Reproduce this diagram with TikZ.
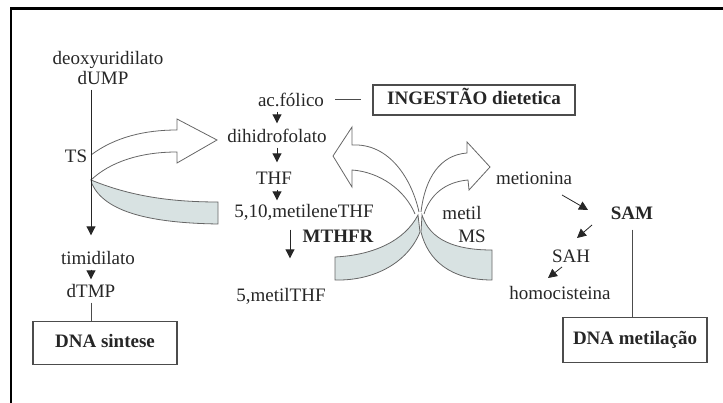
\documentclass[tikz,border=0pt]{standalone}
\usepackage{fontspec}
\setmainfont{Liberation Serif}
\usetikzlibrary{arrows.meta,%
                positioning}
\definecolor{cinza}{RGB}{216,226,226}

\begin{document}
\begin{tikzpicture}[x=1pt,y=-1pt,
  font=\fontsize{19}{22}\selectfont,
  every node/.style={text height=13pt,text depth=4pt,inner sep=1pt,text=black!85},
  caixa/.style={draw=black!70,line width=1.2pt,font=\fontsize{19}{22}\selectfont\bfseries},
  seta/.style={-{Triangle[width=9pt,length=9pt]},line width=1pt,black!85},
  linha/.style={line width=1pt,black!70},
  bloco/.style={draw=black!60,line width=0.8pt},
  faixa/.style={bloco,fill=cinza}]
\useasboundingbox (0,0) rectangle (723,403);
\draw[line width=2.5pt] (11,410) -- (11,8.5) -- (730,8.5);

\draw[faixa] (91,180) .. controls (130,196) and (170,202) .. (218,202) -- (218,224) .. controls (150,223) and (105,212) .. (92,184) -- cycle;
\draw[bloco] (91,155) .. controls (115,137) and (145,130) .. (177,130) -- (177,119) -- (217,140) -- (177,163) -- (177,152) .. controls (140,152) and (110,162) .. (91,180);

\draw[faixa] (418,215) .. controls (405,240) and (375,255) .. (335,257) -- (335,280) .. controls (375,281) and (408,262) .. (420,232) -- cycle;
\draw[faixa] (422,215) .. controls (430,240) and (455,250) .. (492,250) -- (492,280) .. controls (450,280) and (428,260) .. (421,232) -- cycle;
\draw[bloco] (419,212) .. controls (412,180) and (390,143) .. (352,145) -- (352,127) -- (333,156) -- (352,187) -- (352,170) .. controls (380,172) and (405,190) .. (415,214);
\draw[bloco] (421,212) .. controls (425,178) and (440,155) .. (467,153) -- (467,142) -- (490,167) -- (469,190) -- (468,180) .. controls (445,182) and (430,195) .. (424,214);

\node (DX) at (108,60) {deoxyuridilato};
\node (DU) at (103,80) {dUMP};
\node (TS) at (76,158) {TS};
\node (TD) at (98,260) {timidilato};
\node (DT) at (91,293) {dTMP};
\node[caixa,minimum width=144pt,minimum height=43pt] (DS) at (105,343) {DNA sintese};

\node (AF) at (291,102) {ac.fólico};
\node[caixa,minimum width=202pt,minimum height=30pt] (IN) at (474,100) {INGESTÃO dietetica};
\node (DH) at (277,138) {dihidrofolato};
\node (TH) at (274,180) {THF};
\node (MT) at (304,213) {5,10,metileneTHF};
\node[font=\fontsize{19}{22}\selectfont\bfseries] (MR) at (338,238) {MTHFR};
\node (MH) at (281,297) {5,metilTHF};

\node (ML) at (462,215) {metil};
\node (MS) at (472,238) {MS};
\node (ME) at (534,180) {metionina};
\node[font=\fontsize{19}{22}\selectfont\bfseries] (SM) at (632,215) {SAM};
\node (SH) at (571,258) {SAH};
\node (HC) at (560,295) {homocisteina};
\node[caixa,minimum width=144pt,minimum height=45pt] (DM) at (635,340) {DNA metilação};

\draw[seta,shorten >=15pt] (DU.south -| DT) -- (TD.north -| DT);
\draw[seta,shorten >=4pt] (TD.south -| DT) -- (DT.north);
\draw[linha] (DT.south) -- (DS.north -| DT);

\draw[linha,shorten <=10pt,shorten >=11pt] (AF.east |- IN.west) -- (IN.west);
\draw[seta,shorten >=5pt] (AF.south -| DH) -- (DH.north);
\draw[seta,shorten >=8pt] (DH.south) -- (TH.north -| DH);
\draw[seta,shorten >=3pt] (TH.south -| DH) -- (MT.north -| DH);
\draw[seta,shorten <=7pt,shorten >=29pt] ([xshift=-14pt]MT.south) -- ([xshift=-14pt]MT.south |- MH.north);

\draw[seta,line width=0.8pt] ([shift={(28,15)}]ME.center) -- ([shift={(-44,-5)}]SM.center);
\draw[seta,line width=0.8pt] ([shift={(-40,10)}]SM.center) -- ([shift={(6,-20)}]SH.center);
\draw[seta,line width=0.8pt] ([shift={(-9,9)}]SH.center) -- ([shift={(-12,-17)}]HC.center);
\draw[linha,shorten <=5pt] (SM.south) -- (DM.north -| SM);

\end{tikzpicture}
\end{document}
